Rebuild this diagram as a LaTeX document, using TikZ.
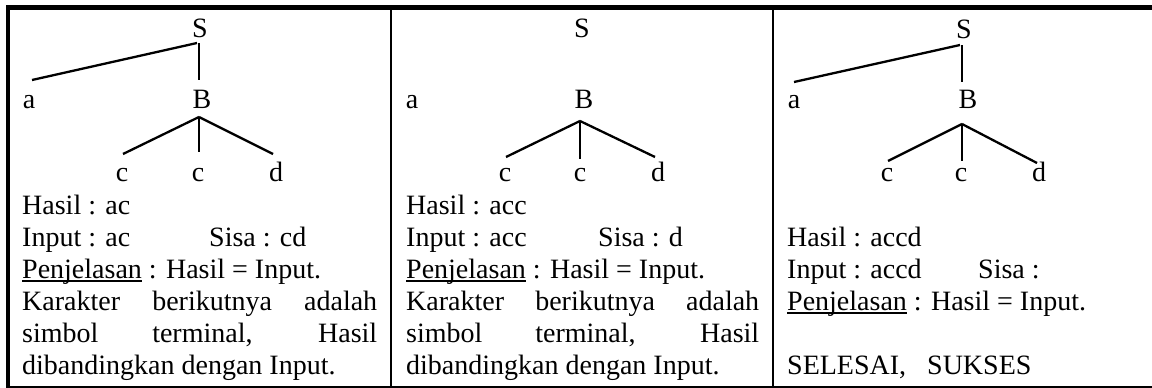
\documentclass[tikz,border=0pt]{standalone}
\usepackage{fontspec}
\setmainfont{Liberation Serif}
\usetikzlibrary{calc}
\newcommand\ulword[1]{\setbox0\hbox{#1}\rlap{\rule[-4pt]{\wd0}{1.8pt}}\box0\relax}
\begin{document}
\begin{tikzpicture}[x=1pt,y=-1pt,
  every node/.style={inner sep=0pt, font=\fontsize{28}{32}\selectfont},
  lbl/.style={anchor=base},
  txt/.style={anchor=base west},
  edge/.style={line width=2.3pt},
  frame/.style={line width=4.5pt, line join=miter},
  sep/.style={line width=2.2pt}]
\useasboundingbox (0,0) rectangle (1152,388);
% table frame
\draw[frame] (8,7.5) rectangle (1164,388.5);
\draw[sep] (391,7.5) -- (391,388);
\draw[sep] (773.3,7.5) -- (773.3,388);

% ---------- column 1 ----------
\node[lbl] (S1) at (200,37) {S};
\node[lbl] (a1) at (29,108) {a};
\node[lbl] (B1) at (202,108) {B};
\node[lbl] (c11) at (122,181) {c};
\node[lbl] (c12) at (198,181) {c};
\node[lbl] (d1) at (276,181) {d};
\draw[edge] ($(S1.base)+(-1,6)$) -- ($(B1.base)+(-3,-28)$);
\draw[edge] ($(S1.base)+(-3,6)$) -- ($(a1.base)+(3,-28)$);
\draw[edge] ($(B1.base)+(-3,9)$) -- ($(c11.base)+(1,-27)$);
\draw[edge] ($(B1.base)+(-3,9)$) -- ($(c12.base)+(1,-29)$);
\draw[edge] ($(B1.base)+(-3,9)$) -- ($(d1.base)+(-3,-27)$);

\node[txt] (h1) at (22,214) {Hasil : ac};
\node[txt] (i1) at (22,246) {Input : ac};
\node[txt] (s1) at (209,246) {Sisa : cd};
\node[txt] (p1) at (22,278) {\ulword{Penjelasan} : Hasil = Input.};
\node[txt] (k1) at (22,310) {\makebox[355pt][s]{Karakter berikutnya adalah}};
\node[txt] (m1) at (22,342) {\makebox[355pt][s]{simbol terminal, Hasil}};
\node[txt] (g1) at (22,374) {dibandingkan dengan Input.};

% ---------- column 2 ----------
\node[lbl] (S2) at (582,37) {S};
\node[lbl] (a2) at (412,108) {a};
\node[lbl] (B2) at (584,108) {B};
\node[lbl] (c21) at (505,181) {c};
\node[lbl] (c22) at (580,181) {c};
\node[lbl] (d2) at (658,181) {d};
\draw[edge] ($(B2.base)+(-4,13)$) -- ($(c21.base)+(1,-24)$);
\draw[edge] ($(B2.base)+(-4,13)$) -- ($(c22.base)+(0,-22)$);
\draw[edge] ($(B2.base)+(-4,13)$) -- ($(d2.base)+(-3,-24)$);

\node[txt] (h2) at (406,214) {Hasil : acc};
\node[txt] (i2) at (406,246) {Input : acc};
\node[txt] (s2) at (598,246) {Sisa : d};
\node[txt] (p2) at (406,278) {\ulword{Penjelasan} : Hasil = Input.};
\node[txt] (k2) at (406,310) {\makebox[353pt][s]{Karakter berikutnya adalah}};
\node[txt] (m2) at (406,342) {\makebox[353pt][s]{simbol terminal, Hasil}};
\node[txt] (g2) at (406,374) {dibandingkan dengan Input.};

% ---------- column 3 ----------
\node[lbl] (S3) at (964,38) {S};
\node[lbl] (a3) at (794,108) {a};
\node[lbl] (B3) at (968,108) {B};
\node[lbl] (c31) at (887,181) {c};
\node[lbl] (c32) at (961,181) {c};
\node[lbl] (d3) at (1039,181) {d};
\draw[edge] ($(S3.base)+(-2,7)$) -- ($(B3.base)+(-6,-26)$);
\draw[edge] ($(S3.base)+(-4,7)$) -- ($(a3.base)+(0,-26)$);
\draw[edge] ($(B3.base)+(-6,16)$) -- ($(c31.base)+(1,-20)$);
\draw[edge] ($(B3.base)+(-6,16)$) -- ($(c32.base)+(1,-20)$);
\draw[edge] ($(B3.base)+(-6,16)$) -- ($(d3.base)+(-2,-18)$);

\node[txt] (h3) at (787,246) {Hasil : accd};
\node[txt] (i3) at (787,278) {Input : accd};
\node[txt] (s3) at (978,278) {Sisa :};
\node[txt] (p3) at (787,310) {\ulword{Penjelasan} : Hasil = Input.};
\node[txt] (e3) at (787,374) {SELESAI,\ \ \ SUKSES};
\end{tikzpicture}
\end{document}
